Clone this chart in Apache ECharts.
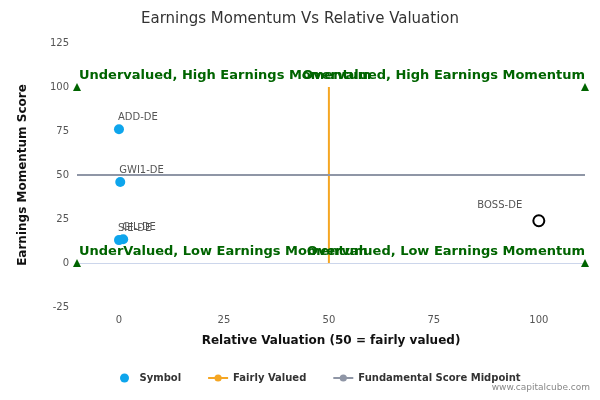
<!DOCTYPE html><html><head><meta charset="utf-8"><script src="https://cdn.jsdelivr.net/npm/echarts@6/dist/echarts.min.js"></script></head><body style="margin:0"><div id="c" style="width:600px;height:400px"></div><script>
const symbols=['ADD-DE','GWI1-DE','SIE-DE','GIL-DE'];
const symX=[0,0.3,0,1];
const symY=[76,46,13,13.5];
const boss={name:'BOSS-DE',x:100,y:24};
const xTicks=[0,25,50,75,100];
const quadLabels=['Undervalued, High Earnings Momentum','Overvalued, High Earnings Momentum','UnderValued, Low Earnings Momentum','Overvalued, Low Earnings Momentum'];
const quadX=[-10,111,-10,111], quadY=[100,100,0,0];
const fairX=[50,50], fairY=[0,100];
const midX=[-10,111], midY=[50,50];
const green='#006400';
const F='DejaVu Sans';
const c=echarts.init(document.getElementById('c'));
c.setOption({
textStyle:{fontFamily:F},
title:{text:'Earnings Momentum Vs Relative Valuation',left:'center',top:7,textStyle:{fontSize:15,fontWeight:'normal',color:'#333',fontFamily:F}},
grid:{left:77,right:15,top:43,bottom:93},
legend:{bottom:12,left:115,itemGap:26,itemWidth:20,itemHeight:9,textStyle:{fontWeight:'bold',fontSize:10,color:'#333',fontFamily:F},data:[{name:'Symbol',icon:'circle'},'Fairly Valued','Fundamental Score Midpoint']},
graphic:[{type:'text',right:10,bottom:8,style:{text:'www.capitalcube.com',fill:'#888',font:'9px DejaVu Sans'}}],
xAxis:{type:'value',min:-10,max:111,interval:25,name:'Relative Valuation (50 = fairly valued)',nameLocation:'middle',nameGap:28,nameTextStyle:{fontWeight:'bold',fontSize:12,color:'#111',fontFamily:F},
 axisLabel:{color:'#555',fontSize:10,customValues:xTicks},axisTick:{show:false},splitLine:{show:false},axisLine:{lineStyle:{color:'#ccd6eb'}}},
yAxis:{type:'value',min:-25,max:125,interval:25,name:'Earnings Momentum Score',nameLocation:'middle',nameGap:48,nameTextStyle:{fontWeight:'bold',fontSize:12,color:'#111',fontFamily:F},
 axisLabel:{color:'#555',fontSize:10},splitLine:{show:false},axisLine:{show:false},axisTick:{show:false}},
series:[
{name:'Symbol',type:'scatter',symbolSize:10,itemStyle:{color:'#0ea5ec',opacity:1},data:symbols.map((s,i)=>({name:s,value:[symX[i],symY[i]]})),
 label:{show:true,formatter:'{b}',position:[4,-12],color:'#555',fontSize:10}},
{name:'Symbol',type:'scatter',symbolSize:11,itemStyle:{color:'#fff',borderColor:'#000',borderWidth:2,opacity:1},data:[{name:boss.name,value:[boss.x,boss.y]}],
 label:{show:true,formatter:'{b}',position:[-55,-14],color:'#555',fontSize:10}},
{name:'Fairly Valued',type:'line',symbol:'none',lineStyle:{color:'#f5a623',width:2},itemStyle:{color:'#f5a623'},data:fairX.map((x,i)=>[x,fairY[i]])},
{name:'Fundamental Score Midpoint',type:'line',symbol:'none',lineStyle:{color:'#8f96a6',width:2},itemStyle:{color:'#8f96a6'},data:midX.map((x,i)=>[x,midY[i]])},
{type:'scatter',symbol:'triangle',symbolSize:8,itemStyle:{color:green,opacity:1},z:5,
 data:quadLabels.map((t,i)=>({name:t,value:[quadX[i],quadY[i]],label:{align:i%2?'right':'left',offset:i%2?[0,0]:[2,0]}})),
 label:{show:true,formatter:'{b}',position:'top',distance:1,color:green,fontWeight:'bold',fontSize:13,fontFamily:F}}
]});
</script></body></html>
